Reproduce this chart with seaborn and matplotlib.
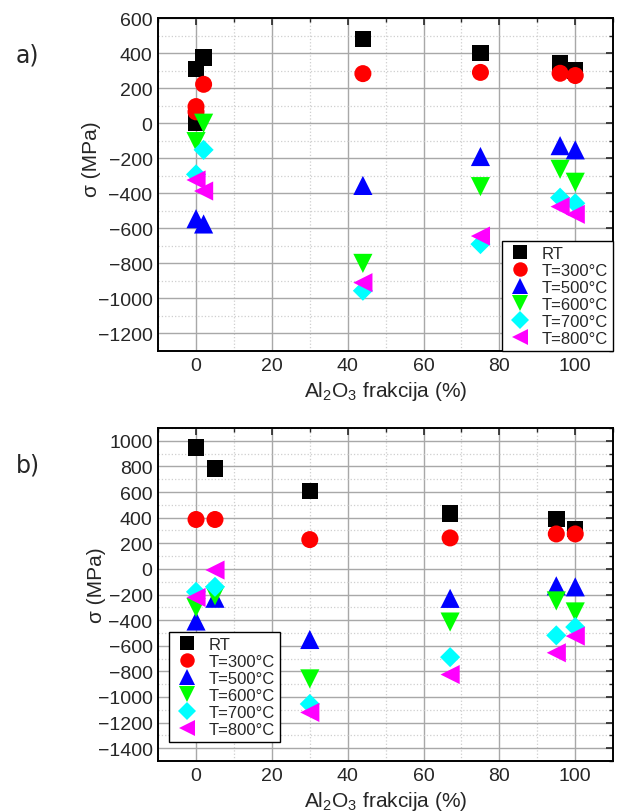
import pandas as pd
import matplotlib
matplotlib.use("Agg")
import matplotlib.pyplot as plt
from matplotlib.ticker import MultipleLocator
import seaborn as sns

# series names, colours, markers
series = ["RT", "T=300°C", "T=500°C", "T=600°C", "T=700°C", "T=800°C"]
colors = ["#000000", "#ff0000", "#0000ff", "#00ff00", "#00ffff", "#ff00ff"]
markers = ["s", "o", "^", "v", "D", "<"]
msizes = [140, 150, 190, 190, 105, 190]

# panel a) data
a_rt_x = [0, 0, 2, 44, 75, 96, 100]
a_rt_y = [310, 5, 375, 480, 400, 345, 300]
a_300_x = [0, 0, 2, 44, 75, 96, 100]
a_300_y = [95, 65, 222, 283, 290, 285, 272]
a_500_x = [0, 2, 44, 75, 96, 100]
a_500_y = [-545, -575, -355, -190, -128, -152]
a_600_x = [0, 2, 44, 75, 96, 100]
a_600_y = [-105, 0, -800, -362, -263, -337]
a_700_x = [0, 2, 44, 75, 96, 100]
a_700_y = [-292, -152, -956, -690, -425, -457]
a_800_x = [0, 2, 44, 75, 96, 100]
a_800_y = [-324, -387, -910, -644, -476, -520]

# panel b) data
b_rt_x = [0, 5, 30, 67, 95, 100]
b_rt_y = [948, 783, 608, 433, 391, 312]
b_300_x = [0, 5, 30, 67, 95, 100]
b_300_y = [386, 386, 229, 242, 273, 273]
b_500_x = [0, 5, 30, 67, 95, 100]
b_500_y = [-407, -229, -551, -230, -132, -140]
b_600_x = [0, 5, 30, 67, 95, 100]
b_600_y = [-302, -210, -859, -415, -250, -336]
b_700_x = [0, 5, 30, 67, 95, 100]
b_700_y = [-179, -140, -1055, -689, -519, -454]
b_800_x = [0, 5, 30, 67, 95, 100]
b_800_y = [-223, -9, -1121, -825, -655, -525]


def make_df(xs, ys):
    rows = []
    for name, x, y in zip(series, xs, ys):
        for xi, yi in zip(x, y):
            rows.append({"x": xi, "y": yi, "T": name})
    return pd.DataFrame(rows)


df_a = make_df([a_rt_x, a_300_x, a_500_x, a_600_x, a_700_x, a_800_x],
               [a_rt_y, a_300_y, a_500_y, a_600_y, a_700_y, a_800_y])
df_b = make_df([b_rt_x, b_300_x, b_500_x, b_600_x, b_700_x, b_800_x],
               [b_rt_y, b_300_y, b_500_y, b_600_y, b_700_y, b_800_y])

sns.set_style("white")
plt.rcParams["font.family"] = ["Liberation Sans", "DejaVu Sans"]
plt.rcParams["mathtext.fontset"] = "custom"
plt.rcParams["mathtext.rm"] = "Liberation Sans"
plt.rcParams["mathtext.it"] = "Liberation Sans"

fig = plt.figure(figsize=(6.2, 8.12), dpi=100)
ax_a = fig.add_axes([0.255, 0.5665, 0.734, 0.410])
ax_b = fig.add_axes([0.255, 0.0616, 0.734, 0.410])

palette = dict(zip(series, colors))
mk = dict(zip(series, markers))
sz = dict(zip(series, msizes))


def style_axis(ax, ylim, yticks):
    ax.set_xlim(-10, 110)
    ax.set_ylim(*ylim)
    ax.xaxis.set_major_locator(MultipleLocator(20))
    ax.xaxis.set_minor_locator(MultipleLocator(10))
    ax.set_yticks(yticks)
    ax.yaxis.set_minor_locator(MultipleLocator(100))
    ax.grid(which="major", color="#a8a8a8", linestyle="-", linewidth=1.0)
    ax.grid(which="minor", color="#cfcfcf", linestyle=":", linewidth=0.9)
    ax.set_axisbelow(True)
    ax.tick_params(which="major", direction="in", length=5, width=1.2,
                   top=True, right=True, labelsize=14, pad=4)
    ax.tick_params(which="minor", direction="in", length=3, width=1.0,
                   top=True, right=True)
    for sp in ax.spines.values():
        sp.set_color("black")
        sp.set_linewidth(1.4)
    ax.set_xlabel(r"Al$_2$O$_3$ frakcija (%)", fontsize=15, labelpad=4)
    ax.set_ylabel("σ (MPa)", fontsize=15)


for ax, df in [(ax_a, df_a), (ax_b, df_b)]:
    sns.scatterplot(data=df, x="x", y="y", hue="T", style="T", size="T",
                    palette=palette, markers=mk, sizes=sz, hue_order=series,
                    style_order=series, size_order=series, linewidth=0,
                    ax=ax, zorder=3, clip_on=False)

style_axis(ax_a, (-1300, 600), list(range(-1200, 601, 200)))
style_axis(ax_b, (-1500, 1100), list(range(-1400, 1001, 200)))
ax_a.yaxis.set_label_coords(-0.125, 0.58)
ax_b.yaxis.set_label_coords(-0.115, 0.53)

for ax, loc, anchor in [(ax_a, "lower right", (1.0, 0.0)),
                        (ax_b, "upper left", (0.024, 0.387))]:
    h, l = ax.get_legend_handles_labels()
    for hd, lab in zip(h, l):
        hd.set_markersize(sz[lab] ** 0.5 * 0.85)
    leg = ax.legend(h, l, loc=loc, bbox_to_anchor=anchor,
                    fontsize=12, frameon=True, fancybox=False,
                    edgecolor="black", framealpha=1, borderaxespad=0,
                    labelspacing=0.12, handletextpad=0.5, borderpad=0.3,
                    handlelength=1.6)
    leg.get_frame().set_linewidth(1.0)

fig.text(0.025, 0.923, "a)", fontsize=17, family="DejaVu Sans")
fig.text(0.025, 0.418, "b)", fontsize=17, family="DejaVu Sans")

fig.savefig("out.png", dpi=100)
